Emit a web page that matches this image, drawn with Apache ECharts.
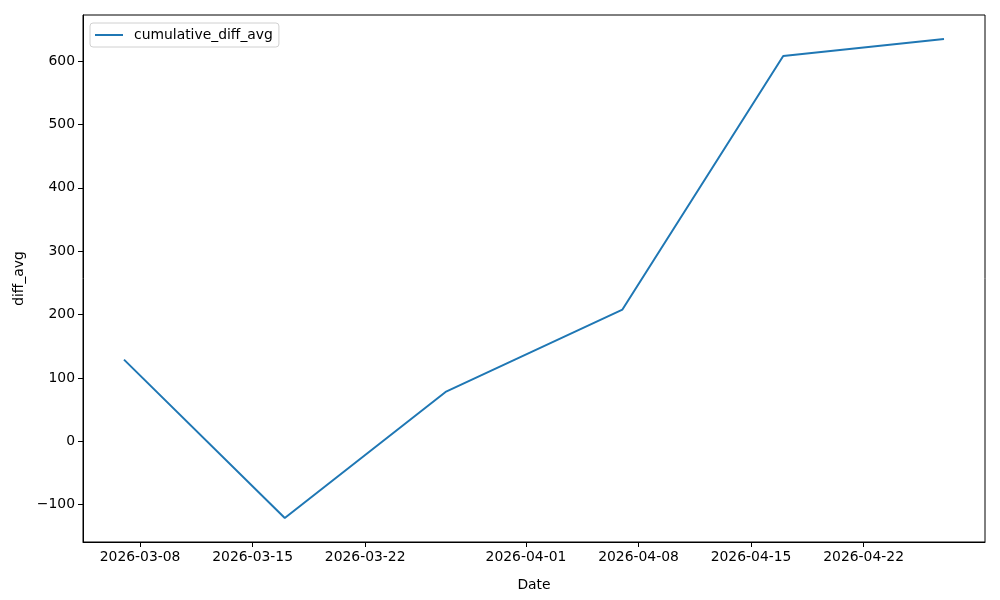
<!DOCTYPE html>
<html>
<head>
<meta charset="utf-8">
<script src="https://cdn.jsdelivr.net/npm/echarts@6/dist/echarts.min.js"></script>
<style>html,body{margin:0;padding:0;background:#fff}#c{width:1000px;height:600px}</style>
</head>
<body>
<div id="c"></div>
<script>
const dates = ['2026-03-07','2026-03-17','2026-03-27','2026-04-07','2026-04-17','2026-04-27'];
const cumulativeDiffAvg = [129, -121, 78, 208, 608, 635];
const xTickLabels = ['2026-03-08','2026-03-15','2026-03-22','2026-04-01','2026-04-08','2026-04-15','2026-04-22'];
const yTicks = [-100, 0, 100, 200, 300, 400, 500, 600];

function ts(s){ const p = s.split('-').map(Number); return Date.UTC(p[0], p[1]-1, p[2]); }
function fmt(v){ const d = new Date(v); const p = n => String(n).padStart(2,'0');
  return d.getUTCFullYear() + '-' + p(d.getUTCMonth()+1) + '-' + p(d.getUTCDate()); }

const xs = dates.map(ts);
const xSpan = xs[xs.length-1] - xs[0];
const xMin = xs[0] - 0.05*xSpan, xMax = xs[xs.length-1] + 0.05*xSpan;
const yLo = Math.min(...cumulativeDiffAvg), yHi = Math.max(...cumulativeDiffAvg);
const ySpan = yHi - yLo;
const yMin = yLo - 0.05*ySpan, yMax = yHi + 0.05*ySpan;

const font = 'DejaVu Sans';
const chart = echarts.init(document.getElementById('c'), null, {renderer:'canvas'});
chart.setOption({
  animation: false,
  textStyle: {fontFamily: font},
  grid: {left: 83, right: 15, top: 15, bottom: 58, show: true, borderColor: '#000', borderWidth: 1, backgroundColor: 'transparent'},
  legend: {
    left: 90, top: 23, padding: [5, 6, 5, 5],
    borderColor: '#d0d0d0', borderWidth: 1, borderRadius: 3,
    itemWidth: 28, itemHeight: 12, itemGap: 8,
    textStyle: {fontFamily: font, fontSize: 13.9, color: '#000', padding: [0, 0, 0, 6]},
    data: [{name: 'cumulative_diff_avg', icon: 'path://M0,0L28,0L28,2L0,2Z'}]
  },
  xAxis: {
    type: 'value', min: xMin, max: xMax,
    name: 'Date', nameLocation: 'middle', nameGap: 36,
    nameTextStyle: {fontFamily: font, fontSize: 13.9, color: '#000'},
    axisLine: {show: true, onZero: false, lineStyle: {color: '#000', width: 1}},
    axisTick: {show: true, length: 5, lineStyle: {color: '#000'}, customValues: xTickLabels.map(ts)},
    axisLabel: {fontFamily: font, fontSize: 13.9, color: '#000', margin: 8, customValues: xTickLabels.map(ts), formatter: v => fmt(v)},
    splitLine: {show: false}
  },
  yAxis: {
    type: 'value', min: yMin, max: yMax,
    name: 'diff_avg', nameLocation: 'middle', nameGap: 54, nameRotate: 90,
    nameTextStyle: {fontFamily: font, fontSize: 13.9, color: '#000'},
    axisLine: {show: true, onZero: false, lineStyle: {color: '#000', width: 1}},
    axisTick: {show: true, length: 5, lineStyle: {color: '#000'}, customValues: yTicks},
    axisLabel: {fontFamily: font, fontSize: 13.9, color: '#000', margin: 8, customValues: yTicks,
      formatter: v => (v < 0 ? '\u2212' + Math.abs(v) : String(v))},
    splitLine: {show: false}
  },
  series: [{
    name: 'cumulative_diff_avg', type: 'line',
    data: xs.map((x, i) => [x, cumulativeDiffAvg[i]]),
    symbol: 'none', showSymbol: false,
    lineStyle: {color: '#1f77b4', width: 2},
    itemStyle: {color: '#1f77b4'}
  }]
});
</script>
</body>
</html>
